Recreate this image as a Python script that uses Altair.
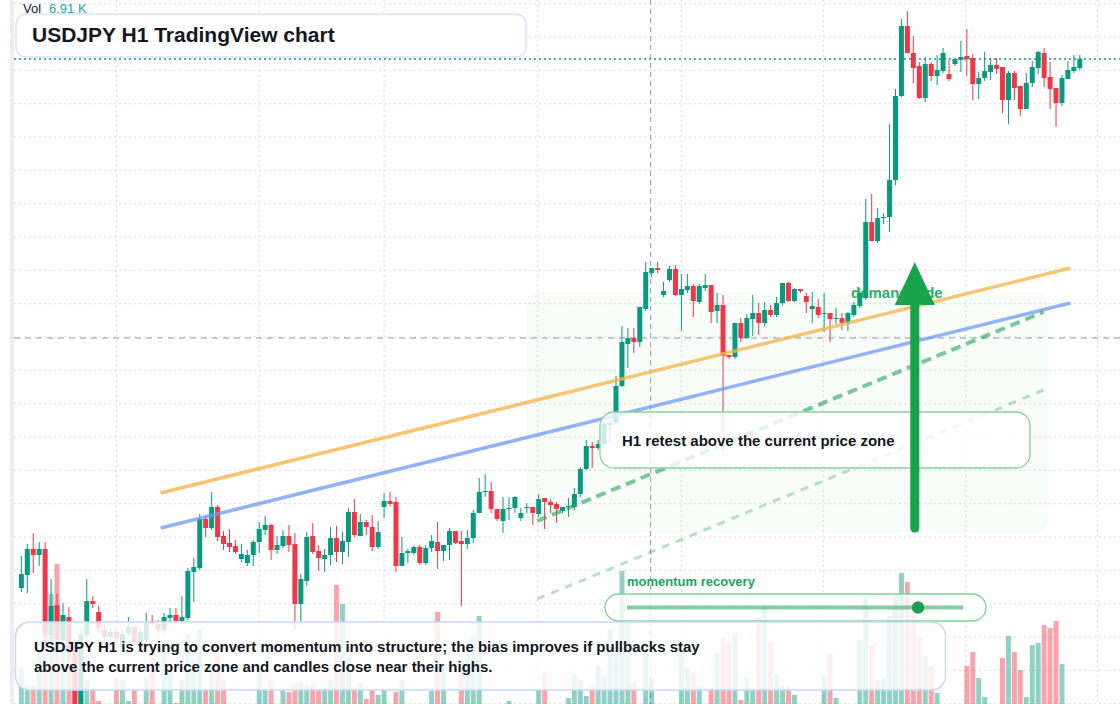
import altair as alt
import pandas as pd

# ---------------- data ----------------
opens = [
150.324,150.350,150.402,150.390,150.402,150.230,150.290,150.220,150.266,150.200,
150.076,150.230,150.298,150.276,150.240,150.226,150.236,150.212,150.232,150.246,
150.216,150.220,150.258,150.252,150.240,150.264,150.270,150.258,150.264,150.356,
150.364,150.462,150.444,150.486,150.428,150.414,150.408,150.382,150.374,150.390,
150.416,150.440,150.450,150.400,150.408,150.428,150.412,150.292,150.338,150.428,
150.398,150.382,150.390,150.424,150.396,150.416,150.476,150.428,150.456,150.446,
150.406,150.486,150.498,150.496,150.368,150.394,150.394,150.406,150.374,150.404,
150.416,150.398,150.410,150.438,150.418,150.412,150.424,150.474,150.516,150.518,
150.482,150.458,150.482,150.484,150.464,150.484,150.486,150.472,150.504,150.496,
150.492,150.478,150.486,150.486,150.512,150.562,150.608,150.604,150.612,150.650,
150.654,150.728,150.812,150.824,150.816,150.882,150.954,150.964,150.910,150.940,
150.962,150.910,150.920,150.928,150.896,150.924,150.930,150.878,150.890,150.790,
150.786,150.854,150.824,150.862,150.874,150.854,150.880,150.870,150.894,150.934,
150.898,150.922,150.908,150.882,150.886,150.872,150.874,150.862,150.864,150.854,
150.870,150.888,150.904,151.056,151.018,151.064,151.066,151.140,151.308,151.448,
151.394,151.368,151.304,151.372,151.348,151.358,151.352,151.372,151.380,151.388,
151.384,151.332,151.344,151.356,151.370,151.366,151.300,151.354,151.328,151.282,
151.334,151.364,151.394,151.346,151.324,151.294,151.342,151.358,151.364]

highs = [
150.388,150.412,150.434,150.416,150.416,150.342,150.312,150.294,150.286,150.220,
150.240,150.342,150.308,150.288,150.250,150.244,150.242,150.240,150.266,150.252,
150.244,150.274,150.270,150.260,150.274,150.284,150.284,150.308,150.364,150.384,
150.472,150.470,150.516,150.490,150.438,150.442,150.420,150.412,150.400,150.420,
150.456,150.468,150.452,150.428,150.440,150.450,150.434,150.352,150.436,150.454,
150.410,150.402,150.446,150.448,150.436,150.484,150.502,150.472,150.460,150.470,
150.458,150.514,150.516,150.506,150.426,150.402,150.408,150.410,150.410,150.430,
150.456,150.410,150.444,150.438,150.438,150.440,150.480,150.544,150.552,150.536,
150.482,150.506,150.506,150.508,150.484,150.494,150.486,150.512,150.504,150.502,
150.496,150.486,150.504,150.524,150.566,150.620,150.616,150.620,150.660,150.660,
150.748,150.848,150.844,150.844,150.886,150.976,150.964,150.976,150.936,150.968,
150.970,150.952,150.952,150.932,150.932,150.952,150.930,150.914,150.910,150.790,
150.854,150.864,150.872,150.910,150.894,150.896,150.890,150.906,150.934,150.936,
150.924,150.922,150.914,150.916,150.902,150.914,150.874,150.884,150.874,150.876,
150.896,150.924,151.102,151.112,151.084,151.074,151.252,151.322,151.462,151.478,
151.428,151.376,151.386,151.376,151.390,151.404,151.380,151.382,151.418,151.442,
151.392,151.356,151.396,151.384,151.384,151.366,151.358,151.358,151.328,151.354,
151.378,151.398,151.404,151.376,151.324,151.350,151.378,151.390,151.390]

lows = [
150.316,150.314,150.354,150.368,150.210,150.200,150.204,150.200,150.180,150.068,
150.068,150.220,150.284,150.236,150.218,150.220,150.216,150.206,150.226,150.210,
150.210,150.216,150.246,150.232,150.234,150.256,150.254,150.256,150.260,150.296,
150.360,150.426,150.440,150.418,150.400,150.396,150.392,150.376,150.368,150.368,
150.394,150.430,150.380,150.392,150.404,150.396,150.240,150.250,150.328,150.392,
150.358,150.356,150.370,150.376,150.372,150.386,150.426,150.428,150.430,150.398,
150.402,150.464,150.488,150.356,150.368,150.374,150.390,150.370,150.370,150.396,
150.362,150.378,150.380,150.412,150.288,150.402,150.414,150.474,150.506,150.474,
150.458,150.434,150.460,150.474,150.458,150.474,150.450,150.466,150.442,150.474,
150.454,150.474,150.466,150.480,150.506,150.560,150.564,150.600,150.608,150.616,
150.650,150.726,150.764,150.794,150.806,150.878,150.946,150.954,150.906,150.936,
150.908,150.838,150.914,150.866,150.892,150.918,150.854,150.854,150.600,150.782,
150.782,150.816,150.822,150.828,150.830,150.846,150.866,150.866,150.890,150.896,
150.896,150.914,150.874,150.854,150.864,150.836,150.816,150.852,150.840,150.838,
150.866,150.884,150.900,151.018,151.014,151.052,151.036,151.130,151.306,151.394,
151.334,151.302,151.296,151.338,151.330,151.354,151.338,151.368,151.356,151.348,
151.300,151.302,151.338,151.340,151.352,151.274,151.252,151.300,151.268,151.282,
151.326,151.352,151.326,151.282,151.246,151.288,151.342,151.354,151.360]

closes = [
150.352,150.402,150.390,150.402,150.230,150.288,150.220,150.270,150.200,150.076,
150.230,150.298,150.292,150.244,150.226,150.236,150.224,150.232,150.246,150.216,
150.236,150.256,150.252,150.240,150.266,150.270,150.258,150.266,150.358,150.366,
150.462,150.444,150.486,150.426,150.412,150.406,150.396,150.392,150.390,150.416,
150.442,150.450,150.400,150.410,150.428,150.410,150.292,150.342,150.426,150.396,
150.384,150.390,150.424,150.396,150.418,150.476,150.430,150.456,150.446,150.406,
150.436,150.498,150.492,150.368,150.394,150.398,150.406,150.374,150.404,150.418,
150.398,150.410,150.438,150.414,150.412,150.424,150.474,150.516,150.518,150.482,
150.462,150.482,150.484,150.506,150.474,150.486,150.474,150.502,150.496,150.490,
150.482,150.486,150.488,150.512,150.562,150.608,150.604,150.612,150.652,150.654,
150.728,150.816,150.824,150.816,150.886,150.956,150.964,150.960,150.918,150.962,
150.910,150.922,150.928,150.898,150.928,150.930,150.876,150.890,150.788,150.786,
150.854,150.824,150.864,150.874,150.854,150.880,150.870,150.894,150.934,150.898,
150.922,150.918,150.896,150.888,150.870,150.874,150.862,150.864,150.854,150.874,
150.890,150.914,151.056,151.018,151.064,151.066,151.140,151.308,151.448,151.394,
151.364,151.304,151.372,151.348,151.360,151.394,151.342,151.382,151.386,151.382,
151.332,151.344,151.358,151.370,151.362,151.300,151.354,151.324,151.282,151.334,
151.366,151.396,151.344,151.322,151.294,151.344,151.360,151.366,151.382]

volumes_k = [
1.80,0.95,0.95,2.70,3.95,5.50,7.00,4.45,3.20,2.45,
2.70,1.20,0.70,0.15,0.00,0.00,1.30,1.20,0.15,0.70,
0.00,1.25,2.95,0.00,2.95,1.70,0.05,1.20,3.45,2.20,
3.70,0.70,1.95,2.45,1.20,0.00,0.00,0.00,0.00,0.00,
1.80,0.70,1.20,0.00,0.70,0.60,1.05,1.05,0.90,0.95,
0.70,0.80,1.20,5.95,5.00,2.35,0.70,1.05,0.25,0.70,
0.45,0.70,0.00,0.60,1.20,0.00,0.00,0.00,0.00,0.65,
4.60,1.70,0.00,0.00,2.10,2.55,3.35,4.40,0.00,0.00,
0.00,0.00,0.15,0.00,0.00,0.00,0.00,0.70,1.55,0.00,
0.00,0.00,0.30,1.45,1.20,0.40,0.85,1.90,1.35,3.70,
2.85,6.65,4.10,1.05,0.00,3.10,1.25,0.00,0.00,0.00,
0.00,2.60,1.85,1.55,0.85,0.00,0.80,2.55,3.30,3.10,
3.55,0.20,1.30,0.70,4.35,4.95,3.10,1.50,0.90,0.90,
0.45,0.00,0.00,0.00,0.00,1.40,2.55,0.30,0.00,0.00,
0.00,3.20,5.30,2.90,1.20,1.25,4.40,5.45,6.55,6.10,
4.55,3.30,2.40,1.90,0.55,0.00,0.00,0.00,0.00,1.90,
2.60,1.30,0.35,0.00,0.00,2.30,3.40,2.60,1.70,0.35,
2.95,3.05,3.95,3.80,4.15,2.00,0.00,0.00,0.00]

# guide levels
price_grid = [151.4926,151.426,151.3594,151.2926,151.226,151.1594,151.0926,151.026,
              150.9594,150.8926,150.826,150.7594,150.6926,150.626,150.5594,150.4926,
              150.426,150.3594,150.2926,150.226,150.1594,150.0926]
time_grid = [16, 40, 61, 86.83, 111, 134.83, 158.83, 181]
cross_i = 105.83
cross_price = 150.824
last_price = 151.382

# drawn studies
res_i = [23.5, 176.5]
res_orange = [150.514, 150.964]
res_blue = [150.444, 150.894]
chan_i = [86.83, 172.0]
chan_upper = [150.458, 150.876]
chan_lower = [150.302, 150.720]
zone_i = [85.0, 172.67]
zone_p = [150.434, 150.916]
arrow_i = 150.33
arrow_from = 150.444
arrow_to = 150.900
arrow_head = 150.932

title_text = "USDJPY H1 TradingView chart"
note_lines = ["USDJPY H1 is trying to convert momentum into structure; the bias improves if pullbacks stay",
              "above the current price zone and candles close near their highs."]
retest_text = "H1 retest above the current price zone"
momentum_text = "momentum recovery"
demand_text = "demand side"
vol_label = "Vol"
vol_value = "6.91 K"

# ---------------- build ----------------
FONT = "Liberation Sans"
INK = "#131722"
UP, DOWN = "#089981", "#f23645"
GREEN = "#16a34a"

df = pd.DataFrame({"i": list(range(len(opens))), "open": opens, "high": highs,
                   "low": lows, "close": closes, "vol": volumes_k})
df["dir"] = ["up" if c >= o else "down" for o, c in zip(opens, closes)]
df["btop"] = df[["open", "close"]].max(axis=1)
df["bbot"] = df[["open", "close"]].min(axis=1)
thin = (df["btop"] - df["bbot"]) < 0.002
df.loc[thin, "bbot"] = df.loc[thin, "btop"] - 0.002

XS = alt.Scale(domain=[-16 / 6, 184], nice=False, zero=False)
PS = alt.Scale(domain=[150.092, 151.5], nice=False, zero=False)
VS = alt.Scale(domain=[0, 35.2], nice=False, zero=True)
CS = alt.Scale(domain=["up", "down"], range=[UP, DOWN])

one = pd.DataFrame({"k": [0]})


def X(f="i"):
    return alt.X(f"{f}:Q", scale=XS, axis=None)


def P(f):
    return alt.Y(f"{f}:Q", scale=PS, axis=None)


def box(x1, x2, y1, y2, fill, fop, stroke, sw, r):
    return alt.Chart(one).mark_rect(fill=fill, fillOpacity=fop, stroke=stroke,
                                    strokeWidth=sw, cornerRadius=r).encode(
        x=alt.value(x1), x2=alt.value(x2), y=alt.value(y1), y2=alt.value(y2))


def label(s, x, y, size, color, weight="bold", opacity=1.0):
    return alt.Chart(one).mark_text(text=s, align="left", baseline="middle", fontSize=size,
                                    fontWeight=weight, font=FONT, color=color,
                                    opacity=opacity).encode(x=alt.value(x), y=alt.value(y))


layers = []

# left strip
layers.append(alt.Chart(one).mark_rect(color="#ebedf0").encode(
    x=alt.value(10), x2=alt.value(14), y=alt.value(0), y2=alt.value(704)))

# grid
layers.append(alt.Chart(pd.DataFrame({"p": price_grid})).mark_rule(
    color="#d9dce1", strokeWidth=1, strokeDash=[2, 3]).encode(
    y=P("p"), x=alt.value(14), x2=alt.value(1120)))
layers.append(alt.Chart(pd.DataFrame({"i": time_grid})).mark_rule(
    color="#d9dce1", strokeWidth=1, strokeDash=[2, 3], xOffset=0.5).encode(
    x=X(), y=alt.value(0), y2=alt.value(704)))

# demand zone
layers.append(alt.Chart(pd.DataFrame({"i": [zone_i[0]], "i2": [zone_i[1]],
                                      "p": [zone_p[0]], "p2": [zone_p[1]]})).mark_rect(
    color="#22c55e", opacity=0.03, cornerRadius=12).encode(
    x=X(), x2="i2:Q", y=P("p"), y2="p2:Q"))

# crosshair
layers.append(alt.Chart(pd.DataFrame({"i": [cross_i]})).mark_rule(
    color="#9598a1", strokeWidth=1, strokeDash=[5, 4], xOffset=0.5).encode(
    x=X(), y=alt.value(0), y2=alt.value(704)))
layers.append(alt.Chart(pd.DataFrame({"p": [cross_price]})).mark_rule(
    color="#9598a1", strokeWidth=1, strokeDash=[6, 5]).encode(
    y=P("p"), x=alt.value(14), x2=alt.value(1120)))

# volume
layers.append(alt.Chart(df).mark_bar(size=5, opacity=0.45, xOffset=0.5).encode(
    x=X(), y=alt.Y("vol:Q", scale=VS, axis=None),
    color=alt.Color("dir:N", scale=CS, legend=None)))

# lower channel line
layers.append(alt.Chart(pd.DataFrame({"i": chan_i, "p": chan_lower})).mark_line(
    color="#22a355", opacity=0.32, strokeWidth=3, strokeDash=[8, 7]).encode(
    x=X(), y=P("p")))

# candles
layers.append(alt.Chart(df).mark_rule(strokeWidth=1, xOffset=0.5).encode(
    x=X(), y=P("low"), y2="high:Q", color=alt.Color("dir:N", scale=CS, legend=None)))
layers.append(alt.Chart(df).mark_bar(size=5, xOffset=0.5).encode(
    x=X(), y=P("bbot"), y2="btop:Q", color=alt.Color("dir:N", scale=CS, legend=None)))

# trend lines
layers.append(alt.Chart(pd.DataFrame({"i": res_i, "p": res_orange})).mark_line(
    color="#f5b54a", opacity=0.78, strokeWidth=3.5).encode(x=X(), y=P("p")))
layers.append(alt.Chart(pd.DataFrame({"i": res_i, "p": res_blue})).mark_line(
    color="#6f98f2", opacity=0.75, strokeWidth=3.5).encode(x=X(), y=P("p")))
layers.append(alt.Chart(pd.DataFrame({"i": chan_i, "p": chan_upper})).mark_line(
    color="#22a355", opacity=0.6, strokeWidth=4, strokeDash=[10, 6]).encode(
    x=X(), y=P("p")))

# last price line
layers.append(alt.Chart(pd.DataFrame({"p": [last_price]})).mark_rule(
    color=UP, strokeWidth=1.5, strokeDash=[2, 3]).encode(
    y=P("p"), x=alt.value(14), x2=alt.value(1120)))

# demand side label
layers.append(label(demand_text, 851, 293, 15, "#22a355", opacity=0.9))

# H1 retest box
layers.append(box(600, 1030, 412, 468, "white", 0.8, "#86d19a", 1.3, 14))
layers.append(label(retest_text, 622, 441, 15, INK))

# arrow
layers.append(alt.Chart(pd.DataFrame({"i": [arrow_i], "p": [arrow_from], "p2": [arrow_to]})).mark_rule(
    color=GREEN, strokeWidth=9, strokeCap="round").encode(x=X(), y=P("p"), y2="p2:Q"))
layers.append(alt.Chart(pd.DataFrame({"i": [arrow_i], "p": [arrow_head]})).mark_point(
    shape="M-1,1.05L0,-1.1L1,1.05Z", size=1600, filled=True, color=GREEN, opacity=1).encode(
    x=X(), y=P("p")))

# momentum widget
layers.append(box(605, 986, 594, 621, "white", 0.8, "#7fd39b", 1.3, 13.5))
layers.append(alt.Chart(one).mark_rule(color="#22a355", opacity=0.55, strokeWidth=4).encode(
    x=alt.value(627), x2=alt.value(963), y=alt.value(607.5)))
layers.append(alt.Chart(one).mark_point(shape="circle", size=154, filled=True,
                                        color="#1e9e4f", opacity=1).encode(
    x=alt.value(918), y=alt.value(607.5)))
layers.append(label(momentum_text, 627, 582, 13, "#22a355"))

# bottom note
layers.append(box(15.5, 945.5, 622, 690, "white", 0.82, "#c9d9f5", 1.5, 14))
layers.append(label(note_lines[0], 34, 647, 15, INK))
layers.append(label(note_lines[1], 34, 667, 15, INK))

# title
layers.append(box(16, 526, 14, 57, "white", 1.0, "#d6e4fb", 1.5, 10))
layers.append(label(title_text, 32, 36, 21, INK))

# volume legend
layers.append(label(vol_label, 23, 9, 13, INK, weight="normal"))
layers.append(label(vol_value, 49, 9, 13, "#26a69a", weight="normal"))

chart = alt.layer(*layers).resolve_scale(y="independent").properties(
    width=1120, height=704, padding=0, autosize="none",
    background="white").configure_view(stroke=None)

chart.save("out.html", embed_options={"renderer": "svg", "actions": False})
